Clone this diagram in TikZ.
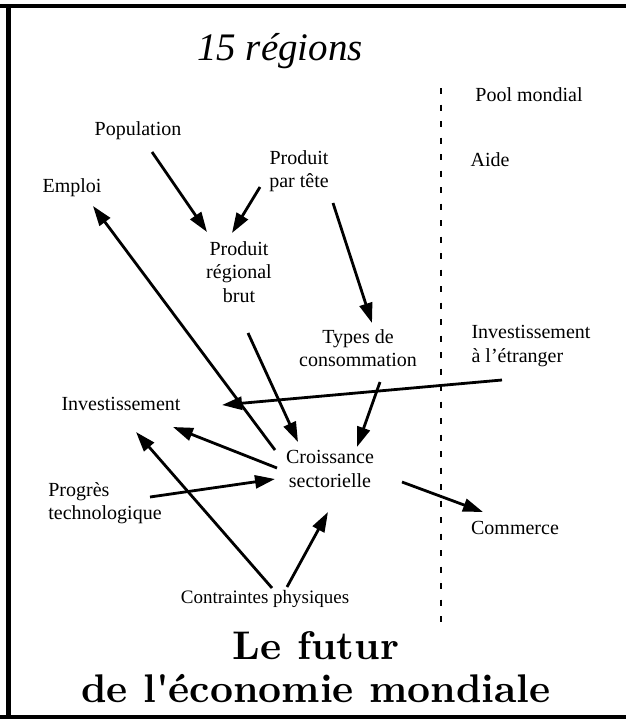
\documentclass[tikz,border=0pt]{standalone}
\usepackage{fontspec}
\setmainfont{Liberation Serif}
\newfontfamily\titlefont{lmroman10-bold.otf}
\usetikzlibrary{arrows.meta,calc}
\begin{document}
\begin{tikzpicture}[x=1pt,y=-1pt,
  lbl/.style={font=\fontsize{20}{23.5}\selectfont, inner sep=0pt, align=center},
  arr/.style={line width=2.8pt, -{Triangle[length=20pt,width=13pt]}},
  framestyle/.style={line width=4.5pt},
  sep/.style={line width=2.4pt, dash pattern=on 6pt off 10.5pt}]
\useasboundingbox (0,0) rectangle (626,723);
% frame
\draw[framestyle] (0,6) -- (626,6);
\draw[framestyle] (0,717) -- (626,717);
\draw[line width=5pt] (8,4) -- (8,719);
% separator
\draw[sep] (441,88) -- (441,624);
% nodes
\node[font=\fontsize{39}{44}\selectfont\itshape, inner sep=0pt, anchor=base] (t15) at (280,60) {15 régions};
\node[lbl] (pool) at (529,95) {Pool mondial};
\node[lbl] (aide) at (490,160) {Aide};
\node[lbl] (pop) at (138,131) {Population};
\node[lbl] (emp) at (72,188) {Emploi};
\node[lbl] (ppt) at (299,171) {Produit\\par tête};
\node[lbl] (prb) at (239,272) {Produit\\régional\\brut};
\node[lbl] (types) at (358,348) {Types de\\consommation};
\node[lbl, align=left] (invet) at (531,346) {Investissement\\à l'étranger};
\node[lbl] (inv) at (121,404) {Investissement};
\node[lbl] (cro) at (330,469) {Croissance\\sectorielle};
\node[lbl, align=left] (prog) at (105,503) {Progrès\\technologique};
\node[lbl] (com) at (515,528) {Commerce};
\node[font=\fontsize{19}{22}\selectfont, inner sep=0pt] (cont) at (265,599) {Contraintes physiques};
\node[font=\titlefont\fontsize{40}{43}\selectfont, align=center, inner sep=0pt] (title) at (316,667) {Le futur\\de l'économie mondiale};
% connectors
\draw[arr] ($(pop)+(14,21)$) -- ($(prb)+(-32,-40)$);
\draw[arr] ($(ppt)+(-39,16)$) -- ($(prb)+(-7,-39)$);
\draw[arr] ($(cro)+(-55,-19)$) -- ($(emp)+(21,18)$);
\draw[arr] ($(prb)+(9,61)$) -- ($(cro)+(-32,-27)$);
\draw[arr] ($(ppt)+(34,32)$) -- ($(types)+(14,-25)$);
\draw[arr] ($(types)+(22,34)$) -- ($(cro)+(27,-22)$);
\draw[arr] ($(invet)+(-29,34)$) -- ($(inv)+(101,1)$);
\draw[arr] ($(cro)+(-53,-1)$) -- ($(inv)+(52,23)$);
\draw[arr] ($(prog)+(45,-6)$) -- ($(cro)+(-55,10)$);
\draw[arr] ($(cont)+(7,-11)$) -- ($(inv)+(15,28)$);
\draw[arr] ($(cont)+(22,-12)$) -- ($(cro)+(-2,43)$);
\draw[arr] ($(cro)+(72,13)$) -- ($(com)+(-32,-16)$);
\end{tikzpicture}
\end{document}
